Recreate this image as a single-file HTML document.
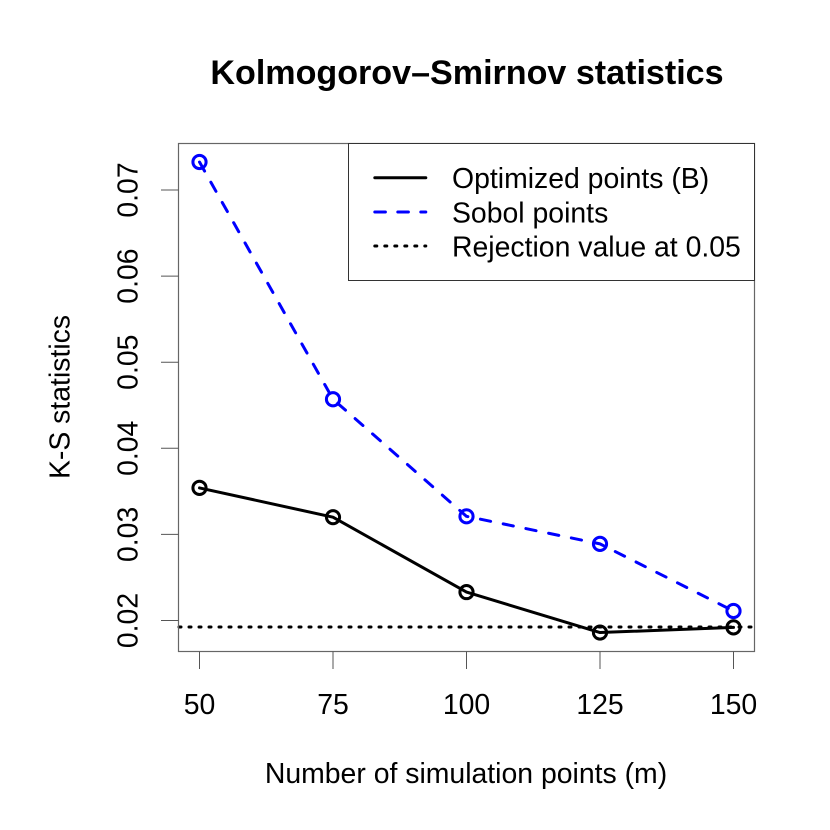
<!DOCTYPE html>
<html lang="en">
<head>
<meta charset="utf-8">
<title>Kolmogorov–Smirnov statistics</title>
<style>
html,body{margin:0;padding:0;background:#fff;width:830px;height:830px;overflow:hidden}
svg{display:block}
text{font-family:"Liberation Sans",Arial,sans-serif;fill:#000}
</style>
</head>
<body>
<svg id="chart" xmlns="http://www.w3.org/2000/svg" width="830" height="830" viewBox="0 0 830 830">
  <text x="467" y="84" font-size="34.1" font-weight="bold" text-anchor="middle">Kolmogorov–Smirnov statistics</text>
  <text x="466" y="783" font-size="28.4" text-anchor="middle">Number of simulation points (m)</text>
  <text transform="translate(69.5,397) rotate(-90)" font-size="28.4" text-anchor="middle">K-S statistics</text>
  <g id="marks"></g>
  <g id="axes"></g>
  <g id="legend">
    <rect x="348.5" y="143.5" width="406" height="137" fill="#fff" stroke="#333" stroke-width="1"></rect>
    <line x1="374.8" x2="425.8" y1="177.7" y2="177.7" stroke="#000" stroke-width="3" stroke-linecap="round"></line>
    <line x1="374.8" x2="425.8" y1="212" y2="212" stroke="#0000ff" stroke-width="3" stroke-linecap="round" stroke-dasharray="10.6 12.4"></line>
    <line x1="374.8" x2="425.8" y1="246" y2="246" stroke="#000" stroke-width="3" stroke-linecap="round" stroke-dasharray="2 8"></line>
    <text x="452" y="188" font-size="28.4">Optimized points (B)</text>
    <text x="452" y="222.5" font-size="28.4">Sobol points</text>
    <text x="452" y="256.5" font-size="28.4">Rejection value at 0.05</text>
  </g>
</svg>
<script>
const categories = [50, 75, 100, 125, 150];
const optimizedValues = [0.0354, 0.0320, 0.0233, 0.0186, 0.0192];
const sobolValues = [0.07325, 0.0457, 0.0321, 0.0289, 0.0211];
const rejectionValue = [0.01925];
const xTickLabels = ["50", "75", "100", "125", "150"];
const yTickLabels = ["0.02", "0.03", "0.04", "0.05", "0.06", "0.07"];

const NS = 'http://www.w3.org/2000/svg';
const plotBox = { left: 178.5, right: 754.5, top: 143.5, bottom: 651.5 };
function xScale(v) { return 199.5 + (v - 50) * (733.5 - 199.5) / 100; }
function yScale(v) { return 620.5 - (v - 0.02) * (620.5 - 190) / 0.05; }
function make(tag, attrs, parent) {
  const el = document.createElementNS(NS, tag);
  for (const k in attrs) el.setAttribute(k, attrs[k]);
  parent.appendChild(el);
  return el;
}
const marks = document.getElementById('marks');
const axes = document.getElementById('axes');

const rej = make('line', { x1: plotBox.left + 0.5, x2: plotBox.right, y1: yScale(rejectionValue[0]), y2: yScale(rejectionValue[0]), stroke: '#000', 'stroke-width': 3, 'stroke-linecap': 'round', 'stroke-dasharray': '2 8' }, marks);



function drawSeries(values, color, dash, name) {
  const line = make('polyline', {
    points: values.map(function (v, i) { return xScale(categories[i]) + ',' + yScale(v); }).join(' '),
    fill: 'none', stroke: color, 'stroke-width': 3, 'stroke-linecap': 'round', 'stroke-linejoin': 'round', 'stroke-dasharray': dash
  }, marks);
  
  
  values.forEach(function (v, i) {
    const c = make('circle', { cx: xScale(categories[i]), cy: yScale(v), r: 6.6, fill: 'none', stroke: color, 'stroke-width': 3 }, marks);
    
    
  });
}
drawSeries(sobolValues, '#0000ff', '10.4 12.8', 'sobol');
drawSeries(optimizedValues, '#000', 'none', 'optimized');

const box = make('rect', { x: plotBox.left, y: plotBox.top, width: plotBox.right - plotBox.left, height: plotBox.bottom - plotBox.top, fill: 'none', stroke: '#666', 'stroke-width': 1.2 }, axes);



xTickLabels.forEach(function (label, i) {
  const x = xScale(categories[i]);
  const t = make('line', { x1: x, x2: x, y1: plotBox.bottom, y2: 669, stroke: '#555', 'stroke-width': 1 }, axes);
  
  
  const l = make('text', { x: x, y: 714, 'font-size': 28.4, 'text-anchor': 'middle' }, axes);
  
  
  l.textContent = label;
});
yTickLabels.forEach(function (label) {
  const y = yScale(parseFloat(label));
  const t = make('line', { x1: 161, x2: plotBox.left, y1: y, y2: y, stroke: '#555', 'stroke-width': 1 }, axes);
  
  
  const l = make('text', { transform: 'translate(137.3,' + y + ') rotate(-90)', 'font-size': 28.4, 'text-anchor': 'middle' }, axes);
  
  
  l.textContent = label;
});
</script>
</body>
</html>
